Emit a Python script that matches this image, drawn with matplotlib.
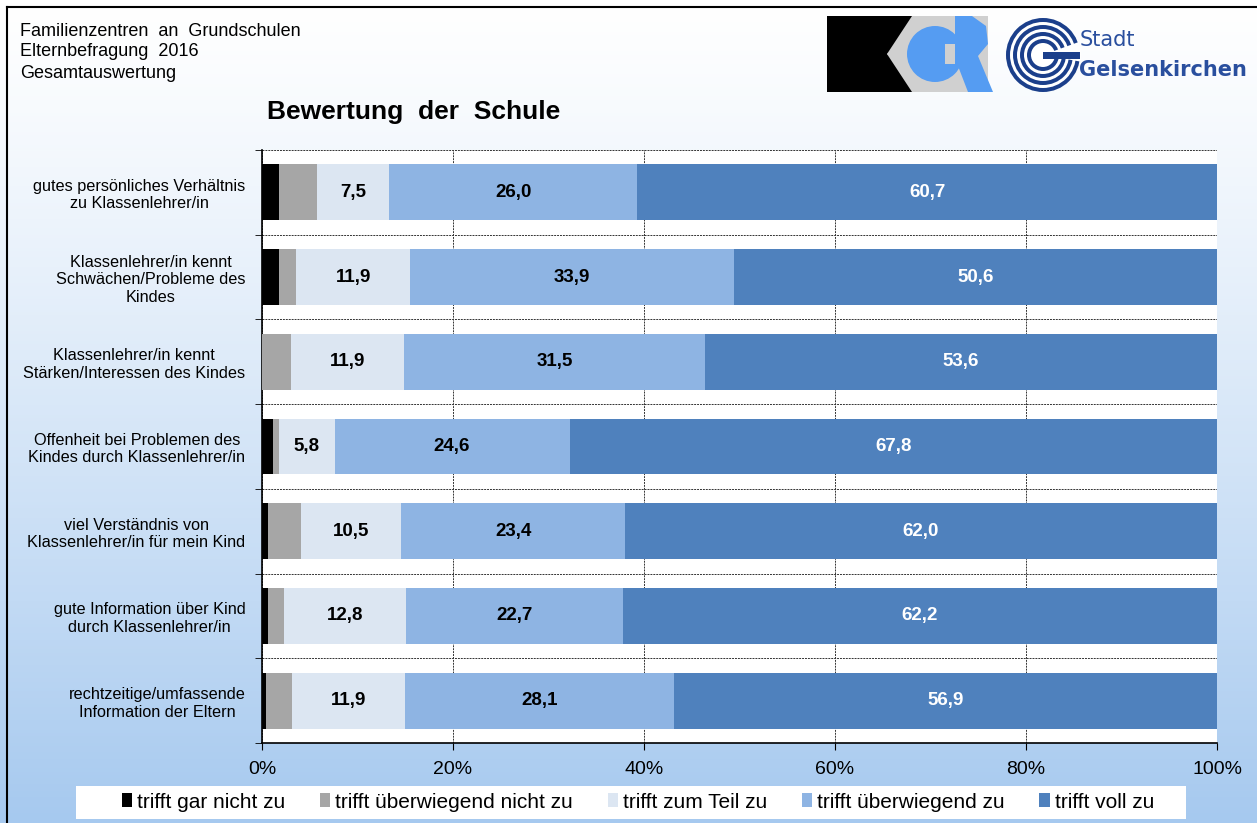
import numpy as np
import matplotlib
matplotlib.use("Agg")
import matplotlib.pyplot as plt
from matplotlib.patches import Patch, Polygon, Rectangle, Circle, Wedge

plt.rcParams['font.family'] = ['Liberation Sans', 'DejaVu Sans']

# daten
kategorien = ["gutes persönliches Verhältnis\nzu Klassenlehrer/in",
              "Klassenlehrer/in kennt\nSchwächen/Probleme des\nKindes",
              "Klassenlehrer/in kennt\nStärken/Interessen des Kindes",
              "Offenheit bei Problemen des\nKindes durch Klassenlehrer/in",
              "viel Verständnis von\nKlassenlehrer/in für mein Kind",
              "gute Information über Kind\ndurch Klassenlehrer/in",
              "rechtzeitige/umfassende\nInformation der Eltern"]
gar_nicht = [1.8, 1.8, 0.0, 1.2, 0.6, 0.6, 0.4]
ueberw_nicht = [4.0, 1.8, 3.0, 0.6, 3.5, 1.7, 2.7]
zum_teil = [7.5, 11.9, 11.9, 5.8, 10.5, 12.8, 11.9]
ueberw_zu = [26.0, 33.9, 31.5, 24.6, 23.4, 22.7, 28.1]
voll = [60.7, 50.6, 53.6, 67.8, 62.0, 62.2, 56.9]
serien = ["trifft gar nicht zu", "trifft überwiegend nicht zu", "trifft zum Teil zu",
          "trifft überwiegend zu", "trifft voll zu"]
farben = ["#000000", "#A6A6A6", "#DCE6F2", "#8EB4E3", "#4F81BD"]
xticks = [0, 20, 40, 60, 80, 100]

W, H = 1257, 823
fig = plt.figure(figsize=(W / 100, H / 100), dpi=100)

# hintergrund verlauf
bg = fig.add_axes([0, 0, 1, 1], zorder=-10)
grad = np.linspace(0, 1, 256).reshape(-1, 1)
top = np.array([1.0, 1.0, 1.0])
bot = np.array([166, 201, 239]) / 255.0
img = top + (bot - top) * grad[:, :, None] ** 1.2
bg.imshow(img, aspect='auto', extent=[0, 1, 0, 1], origin='upper')
bg.set_axis_off()

ax = fig.add_axes([262 / W, 1 - 743 / H, (1217 - 262) / W, (743 - 150) / H])
ax.set_facecolor('white')
y = np.arange(len(kategorien))
werte = [gar_nicht, ueberw_nicht, zum_teil, ueberw_zu, voll]
links = np.zeros(len(kategorien))
for i, (w, f, s) in enumerate(zip(werte, farben, serien)):
    w = np.array(w)
    ax.barh(y, w, left=links, height=0.66, color=f, label=s, zorder=3)
    if i >= 2:
        for yy, l, v in zip(y, links, w):
            ax.text(l + v / 2, yy, ("%.1f" % v).replace(".", ","), ha='center', va='center',
                    fontsize=13.5, fontweight='bold', color='white' if i == 4 else 'black', zorder=4)
    links = links + w

ax.set_xlim(0, 100)
ax.set_ylim(6.5, -0.5)
ax.set_xticks(xticks)
ax.set_xticklabels(["%d%%" % t for t in xticks], fontsize=14)
ax.set_yticks(y)
ax.set_yticklabels(kategorien, fontsize=11.7, multialignment='center')
ax.set_yticks(np.arange(-0.5, 6.6, 1), minor=True)
ax.tick_params(axis='y', which='major', length=0, pad=12)
ax.tick_params(axis='y', which='minor', length=5, direction='out', color='black')
ax.tick_params(axis='x', length=5, direction='out', color='black', pad=8)
ax.grid(axis='x', which='major', linestyle=(0, (2, 1)), color='#333333', linewidth=0.7, zorder=1)
ax.grid(axis='y', which='minor', linestyle=(0, (2, 1)), color='#333333', linewidth=0.7, zorder=1)
for s in ['top', 'right']:
    ax.spines[s].set_visible(False)
ax.spines['left'].set_linewidth(1.2)
ax.spines['bottom'].set_linewidth(1.2)

# texte oben
fig.text(20 / W, 1 - 31 / H, "Familienzentren  an  Grundschulen", fontsize=13, va='center')
fig.text(20 / W, 1 - 52 / H, "Elternbefragung  2016", fontsize=13, va='center')
fig.text(20 / W, 1 - 74 / H, "Gesamtauswertung", fontsize=13, va='center')
fig.text(267 / W, 1 - 112 / H, "Bewertung  der  Schule", fontsize=19, fontweight='bold', va='center')

# legende
ov = fig.add_axes([0, 0, 1, 1], zorder=5)
ov.set_xlim(0, W)
ov.set_ylim(H, 0)
ov.set_axis_off()
ov.patch.set_alpha(0)
ov.add_patch(Rectangle((76, 786), 1110, 33, facecolor='white', edgecolor='none'))
handles = [Patch(facecolor=f, edgecolor='none', label=s) for f, s in zip(farben, serien)]
fig.legend(handles=handles, loc='center', bbox_to_anchor=(638 / W, 1 - 802 / H), ncol=5,
           frameon=False, fontsize=15, handlelength=0.5, handleheight=0.65, handletextpad=0.25,
           columnspacing=1.65)

# rahmen
ov.plot([7, 7], [7, H + 5], color='black', lw=1.5)
ov.plot([7, W + 5], [7, 7], color='black', lw=1.5)

# logo kcr
ov.add_patch(Rectangle((888, 16), 100, 76, facecolor='#D0D0D0', edgecolor='none'))
ov.add_patch(Polygon([(827, 16), (912, 16), (887, 54), (912, 92), (827, 92)], facecolor='black', edgecolor='none'))
ov.add_patch(Circle((935, 54), 28, facecolor='#559CF2', edgecolor='none'))
ov.add_patch(Rectangle((945, 44), 20, 20, facecolor='#D0D0D0', edgecolor='none'))
ov.add_patch(Polygon([(955, 16), (972, 16), (986, 26), (988, 44), (978, 56), (993, 92), (968, 92), (958, 66), (955, 66)],
                     facecolor='#559CF2', edgecolor='none'))

# logo gelsenkirchen
cx, cy = 1043, 55
for r, c in [(37, '#1B3F8B'), (33, 'white'), (30, '#1B3F8B'), (26, 'white'), (23, '#1B3F8B'),
             (19, 'white'), (16, '#1B3F8B'), (12, 'white')]:
    ov.add_patch(Circle((cx, cy), r, facecolor=c, edgecolor='none'))
ov.add_patch(Wedge((cx, cy), 38, -20, 10, facecolor='white', edgecolor='none'))
ov.add_patch(Rectangle((cx, cy - 3), 37, 7, facecolor='#1B3F8B', edgecolor='none'))
ov.text(1080, 40, "Stadt", fontsize=15, color='#2A4F9E', va='center', family=['DejaVu Sans'])
ov.text(1079, 70, "Gelsenkirchen", fontsize=15, fontweight='bold', color='#2A4F9E', va='center',
        family=['DejaVu Sans'])

fig.savefig("out.png", dpi=100)
